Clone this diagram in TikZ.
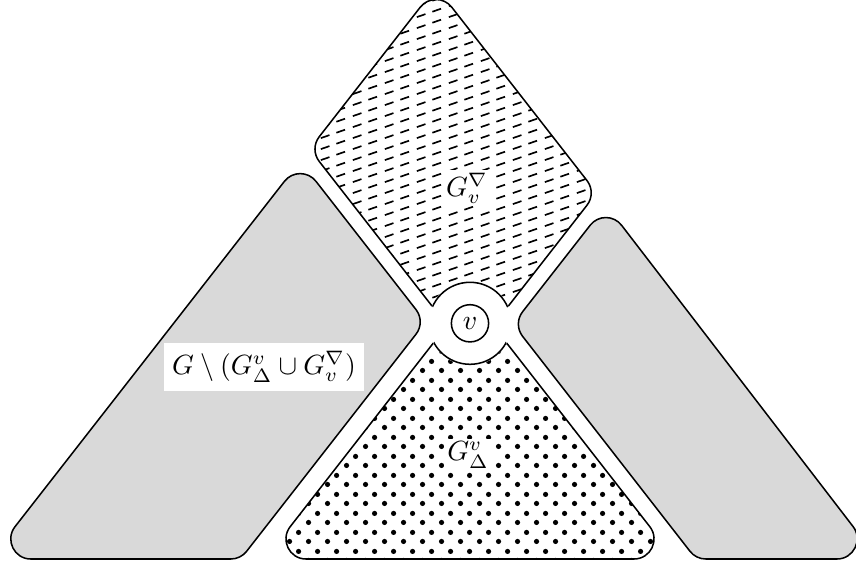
\documentclass[tikz,border=0pt]{standalone}
\usetikzlibrary{calc,patterns}
\definecolor{regiongray}{gray}{0.85}
\pgfdeclarepatternformonly{mydashes}{\pgfpoint{0pt}{0pt}}{\pgfpoint{11.52pt}{3.92pt}}{\pgfpoint{11.52pt}{3.92pt}}{%
  \pgfsetlinewidth{0.6pt}\pgfsetbuttcap
  \pgfpathmoveto{\pgfpoint{0.3pt}{0.32pt}}\pgfpathlineto{\pgfpoint{3.5pt}{1.41pt}}
  \pgfpathmoveto{\pgfpoint{6.06pt}{2.28pt}}\pgfpathlineto{\pgfpoint{9.26pt}{3.37pt}}
  \pgfusepath{stroke}}
\pgfdeclarepatternformonly{mydots}{\pgfpoint{0pt}{0pt}}{\pgfpoint{6.84pt}{6.84pt}}{\pgfpoint{6.84pt}{6.84pt}}{%
  \pgfpathcircle{\pgfpoint{1.71pt}{1.71pt}}{0.98pt}
  \pgfpathcircle{\pgfpoint{5.13pt}{5.13pt}}{0.98pt}
  \pgfusepath{fill}}
% rounded corner at #2 between #1 and #3: tangent length #4, control distance #5
\newcommand\rcornerX[5]{-- ($(#2)!#4!(#1)$) .. controls ($(#2)!#5!(#1)$) and ($(#2)!#5!(#3)$) .. ($(#2)!#4!(#3)$)}
\newcommand\cornA[3]{\rcornerX{#1}{#2}{#3}{14.76pt}{8.76pt}}% 52 deg
\newcommand\cornB[3]{\rcornerX{#1}{#2}{#3}{9.22pt}{4.54pt}}% 76 deg
\newcommand\cornC[3]{\rcornerX{#1}{#2}{#3}{5.62pt}{2.32pt}}% 104 deg
\newcommand\cornD[3]{\rcornerX{#1}{#2}{#3}{3.51pt}{1.3pt}}% 128 deg
\begin{document}
\begin{tikzpicture}[x=0.36pt,y=-0.36pt,line width=0.55pt,
  region/.style={draw=black,line join=round},
  lbl/.style={fill=white,inner sep=1pt}]
\useasboundingbox (0,0) rectangle (856,565);
% vertices
\coordinate (Dt) at (436,-13);
\coordinate (Dr) at (596.6,192.9);
\coordinate (Db) at (470.2,355);
\coordinate (Dl) at (309.6,149.1);
\coordinate (Ta) at (470,296);
\coordinate (Tr) at (675,559);
\coordinate (Tl) at (265,559);
\coordinate (Lt) at (300.2,161.1);
\coordinate (Lv) at (425.6,321.9);
\coordinate (Lbr) at (240.6,559);
\coordinate (Lbl) at (-10.2,559);
\coordinate (Rt) at (606,205);
\coordinate (Rbr) at (878,559);
\coordinate (Rbl) at (696,559);
\coordinate (Rv) at (513,324);
\coordinate (V) at (470,323.3);
\def\diamondpath{($(Dt)!9.22pt!(Dr)$) \cornC{Dt}{Dr}{Db} -- (Db) \cornC{Db}{Dl}{Dt} \cornB{Dl}{Dt}{Dr} -- cycle}
\def\trianglepath{(Ta) \cornA{Ta}{Tr}{Tl} \cornA{Tr}{Tl}{Ta} -- cycle}
% gray regions
\draw[region,fill=regiongray] ($(Lt)!9.22pt!(Lv)$) \cornC{Lt}{Lv}{Lbr} \cornD{Lv}{Lbr}{Lbl} \cornA{Lbr}{Lbl}{Lt} \cornB{Lbl}{Lt}{Lv} -- cycle;
\draw[region,fill=regiongray] ($(Rt)!9.22pt!(Rbr)$) \cornA{Rt}{Rbr}{Rbl} \cornD{Rbr}{Rbl}{Rv} \cornC{Rbl}{Rv}{Rt} \cornB{Rv}{Rt}{Rbr} -- cycle;
% patterned regions
\draw[region,pattern=mydashes] \diamondpath;
\draw[region,pattern=mydots] \trianglepath;
% disc around v
\fill[white] (V) circle[radius=15.1pt];
\begin{scope}
  \clip \diamondpath;
  \draw (V) circle[radius=14.76pt];
\end{scope}
\begin{scope}
  \clip \trianglepath;
  \draw (V) circle[radius=14.76pt];
\end{scope}
\node[draw,circle,minimum size=13.4pt,inner sep=0pt,fill=white] (v) at (V) {$v$};
% labels
\node[lbl] (ltop) at (467,188) {$G^{\nabla}_{v}$};
\node[lbl] (lbot) at (468,455) {$G^{v}_{\Delta}$};
\node[lbl,inner sep=3pt] (lleft) at (264,367) {$G\setminus(G^{v}_{\Delta}\cup G^{\nabla}_{v})$};
\end{tikzpicture}
\end{document}
